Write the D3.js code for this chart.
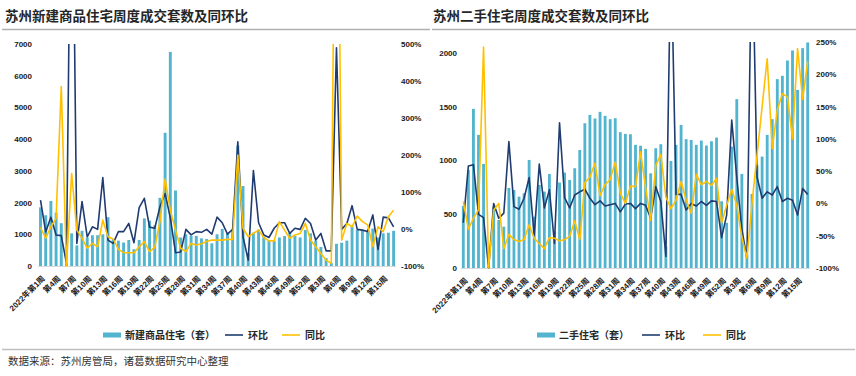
<!DOCTYPE html>
<html>
<head>
<meta charset="utf-8">
<script src="https://cdn.jsdelivr.net/npm/d3@7"></script>
<style>
body { margin: 0; background: #fff; }
svg text { font-family: "Liberation Sans", Arial, "Noto Sans CJK SC", sans-serif; }
</style>
</head>
<body>
<svg id="chart" width="856" height="376"></svg>
<script>
// weeks: 2022 w1 .. 2023 w17
const weeks = d3.range(1, 53).map(w => "2022年第" + w + "周")
    .concat(d3.range(1, 18).map(w => "2023年第" + w + "周"));

const tickLabels = ["2022年第1周", "第4周", "第7周", "第10周", "第13周", "第16周", "第19周", "第22周",
    "第25周", "第28周", "第31周", "第34周", "第37周", "第40周", "第43周", "第46周", "第49周",
    "第52周", "第3周", "第6周", "第9周", "第12周", "第15周"];

// 新建商品住宅 (套)
const newBars = [
    1850, 1600, 2050, 1680, 1350, 80, 1030, 650, 1110, 900,
    970, 970, 1000, 1540, 840, 800, 740, 820, 530, 820,
    1500, 1430, 1280, 2150, 4200, 6750, 2380, 900, 1000, 950,
    950, 870, 850, 715, 1000, 1170, 1010, 1130, 3800, 2520,
    400, 1050, 1150, 925, 800, 800, 900, 945, 1050, 945,
    900, 1135, 1030, 800, 600, 250, 100, 700, 735, 800,
    1240, 1135, 1135, 1080, 1180, 900, 1030, 1050, 1110
];
// 环比 (%)
const newHuan = [
    78, -8, 32, -16, -18, -93, 1200, -39, 74, -21,
    6, -1, 139, -30, -39, -7, -7, 15, -37, 58,
    83, 5, 2, 60, 96, 30, -64, -62, -1, -16,
    -7, -9, -1, -14, 32, 17, -14, -1, 236, -21,
    -84, 158, 17, -16, -23, 2, 17, 17, -12, 2,
    -1, 29, 15, -30, -12, -59, -59, 490, -1, 15,
    63, -1, -3, -7, 38, -55, 32, 30, 6
];
// 同比 (%)
const newTong = [
    4, -25, 6, 29, 385, -100, 150, -3, -25, -52,
    -39, -48, 24, -21, -27, -55, -64, -64, -64, -48,
    -34, -61, -50, 20, 135, 51, -3, -52, -61, -39,
    -43, -40, -34, -30, -30, -30, -28, -28, 200, 2,
    -21, -12, -3, -23, -32, -32, 20, -3, -25, -16,
    -12, 15, -30, -48, -66, -84, -93, 1500, -30, 15,
    6, 35, 20, 11, -48, 6, -7, 33, 51
];

// 二手住宅 (套)
const usedBars = [
    577, 910, 1479, 1237, 967, 10, 570, 446, 384, 744,
    725, 663, 694, 1004, 477, 772, 710, 874, 340, 794,
    887, 818, 927, 1097, 1345, 1423, 1389, 1451, 1414, 1383,
    1392, 1262, 1246, 1243, 1144, 1136, 1107, 880, 1113, 1150,
    200, 995, 1144, 1330, 1197, 1190, 1144, 1184, 1138, 1178,
    1212, 620, 420, 1128, 1569, 874, 130, 688, 955, 1035,
    1237, 1383, 1755, 1786, 1928, 2021, 1655, 2043, 2096
];
const usedHuan = [
    -30, 58, 60, -17, -22, -100, 0, -23, -15, 96,
    -5, -9, 8, 40, -50, 61, -7, 21, -62, 125,
    9, -7, 13, 18, 22, 8, -2, 4, -4, -2,
    0, -13, -1, 0, -8, 0, -3, -23, 26, 3,
    -82, 400, 14, 14, -10, 0, -4, 3, -3, 4,
    3, -53, -18, 129, 40, -40, -85, 430, 41, 8,
    18, 13, 26, 3, 8, 5, -18, 23, 14
];
const usedTong = [
    3, -40, -23, -10, 242, -100, -10, 0, -70, -48,
    -56, -59, -56, -33, -54, -62, -70, -53, -54, -58,
    -56, -51, -27, -56, 32, 41, 62, 12, 29, 37,
    64, 16, 0, 27, 26, 80, 24, -26, 59, 76,
    10, -8, 5, 34, 5, -15, 45, 29, 34, 28,
    39, -30, -3, 22, -3, -52, -85, 0, 75, 150,
    224, 85, 145, 170, 165, 100, 240, 161, 220
];

const newLegend = ["新建商品住宅（套）", "环比", "同比"];
const usedLegend = ["二手住宅（套）", "环比", "同比"];

const barColor = "#52b4ce";
const huanColor = "#1f3b70";
const tongColor = "#ffc000";

const svg = d3.select("#chart");

function drawPanel(p) {
    const n = p.bars.length;
    const x = d3.scalePoint().domain(d3.range(n)).range([p.x0, p.x1]);
    const step = x.step();
    const bw = step * 0.56;
    const yL = d3.scaleLinear().domain(p.leftDomain).range([p.bottom, p.top]);
    const yR = d3.scaleLinear().domain(p.rightDomain).range([p.bottom, p.top]);

    const g = svg.append("g");

    // title + rule
    g.append("text")
        .attr("x", p.titleX)
        .attr("y", 21)
        .attr("font-size", "13.5px")
        .attr("font-weight", "bold")
        .attr("fill", "#262626")
        .style("font-family", '"Noto Sans CJK SC", sans-serif')
        .text(p.title);
    g.append("line")
        .attr("x1", p.ruleX0).attr("x2", p.ruleX1)
        .attr("y1", 29.5).attr("y2", 29.5)
        .attr("stroke", "#b0b0b0").attr("stroke-width", 1.5);

    // axes
    const axL = g.append("g")
        .attr("transform", `translate(${p.leftLabelX},0)`)
        .call(d3.axisLeft(yL).tickValues(p.leftTicks).tickSize(0).tickPadding(0)
            .tickFormat(d3.format("d")));
    const axR = g.append("g")
        .attr("transform", `translate(${p.rightLabelX},0)`)
        .call(d3.axisRight(yR).tickValues(p.rightTicks).tickSize(0).tickPadding(0)
            .tickFormat(d => Math.round(d * 100) + "%"));
    [axL, axR].forEach(a => {
        a.select(".domain").remove();
        a.selectAll("text")
            .attr("font-size", "8px")
            .attr("font-weight", "bold")
            .attr("fill", "#1a1a1a")
            .style("font-family", '"Liberation Sans", Arial, sans-serif');
    });

    // bars
    g.selectAll(".bar")
        .data(p.bars)
        .join("rect")
        .attr("class", "bar")
        .attr("x", (d, i) => x(i) - bw / 2)
        .attr("y", d => yL(d))
        .attr("width", bw)
        .attr("height", d => p.bottom - yL(d))
        .attr("fill", barColor);

    // baseline
    g.append("line")
        .attr("x1", p.x0 - step / 2).attr("x2", p.x1 + step / 2)
        .attr("y1", p.bottom + 0.5).attr("y2", p.bottom + 0.5)
        .attr("stroke", "#d9d9d9").attr("stroke-width", 1);

    // lines, clipped to plot area
    const clipId = "clip-" + p.id;
    svg.append("clipPath").attr("id", clipId)
        .append("rect")
        .attr("x", p.x0 - step).attr("y", p.top)
        .attr("width", p.x1 - p.x0 + 2 * step).attr("height", p.bottom - p.top + 2);

    const line = d3.line()
        .x((d, i) => x(i))
        .y(d => yR(d / 100));

    const lg = g.append("g").attr("clip-path", `url(#${clipId})`);
    lg.append("path")
        .datum(p.huan)
        .attr("d", line)
        .attr("fill", "none")
        .attr("stroke", huanColor)
        .attr("stroke-width", 1.6)
        .attr("stroke-linejoin", "round");
    lg.append("path")
        .datum(p.tong)
        .attr("d", line)
        .attr("fill", "none")
        .attr("stroke", tongColor)
        .attr("stroke-width", 1.6)
        .attr("stroke-linejoin", "round");

    // x tick labels
    g.selectAll(".xl")
        .data(tickLabels)
        .join("text")
        .attr("class", "xl")
        .attr("transform", (d, k) => `translate(${x(k * 3) + 3},${p.bottom + 11}) rotate(-45)`)
        .attr("text-anchor", "end")
        .attr("dy", "0.35em")
        .attr("font-size", "8px")
        .attr("font-weight", "bold")
        .attr("fill", "#1a1a1a")
        .text(d => d);

    // legend
    const ly = 335;
    const leg = g.append("g").attr("font-size", "10px").attr("font-weight", "bold").attr("fill", "#262626");
    leg.append("rect")
        .attr("x", p.legX[0]).attr("y", ly - 2.5)
        .attr("width", 18).attr("height", 5)
        .attr("fill", barColor);
    leg.append("text").attr("x", p.legX[0] + 22).attr("y", ly + 3.5)
        .style("font-family", '"Noto Sans CJK SC", sans-serif').text(p.legend[0]);
    [huanColor, tongColor].forEach((c, k) => {
        leg.append("line")
            .attr("x1", p.legX[k + 1]).attr("x2", p.legX[k + 1] + 18)
            .attr("y1", ly).attr("y2", ly)
            .attr("stroke", c).attr("stroke-width", 1.6);
        leg.append("text").attr("x", p.legX[k + 1] + 23).attr("y", ly + 3.5)
            .style("font-family", '"Noto Sans CJK SC", sans-serif').text(p.legend[k + 1]);
    });
}

drawPanel({
    id: "new",
    title: "苏州新建商品住宅周度成交套数及同环比",
    titleX: 5, ruleX0: 2, ruleX1: 430,
    bars: newBars, huan: newHuan, tong: newTong,
    x0: 40.5, x1: 393.6, top: 44, bottom: 266,
    leftDomain: [0, 7000], leftTicks: d3.range(0, 7001, 1000), leftLabelX: 32,
    rightDomain: [-1, 5], rightTicks: d3.range(-1, 5.01, 1), rightLabelX: 401,
    legend: newLegend, legX: [103, 225, 282]
});

drawPanel({
    id: "used",
    title: "苏州二手住宅周度成交套数及同环比",
    titleX: 433, ruleX0: 432, ruleX1: 856,
    bars: usedBars, huan: usedHuan, tong: usedTong,
    x0: 463.3, x1: 807.7, top: 42, bottom: 268,
    leftDomain: [0, 2100], leftTicks: d3.range(0, 2001, 500), leftLabelX: 457,
    rightDomain: [-1, 2.5], rightTicks: d3.range(-1, 2.51, 0.5), rightLabelX: 816,
    legend: usedLegend, legX: [537, 642, 703]
});

// footer
svg.append("line")
    .attr("x1", 2).attr("x2", 855)
    .attr("y1", 349.5).attr("y2", 349.5)
    .attr("stroke", "#bfbfbf").attr("stroke-width", 1.5);
svg.append("text")
    .attr("x", 8).attr("y", 365)
    .attr("font-size", "10.5px")
    .attr("fill", "#333")
    .style("font-family", '"Noto Sans CJK SC", sans-serif')
    .text("数据来源：苏州房管局，诸葛数据研究中心整理");
</script>
</body>
</html>
